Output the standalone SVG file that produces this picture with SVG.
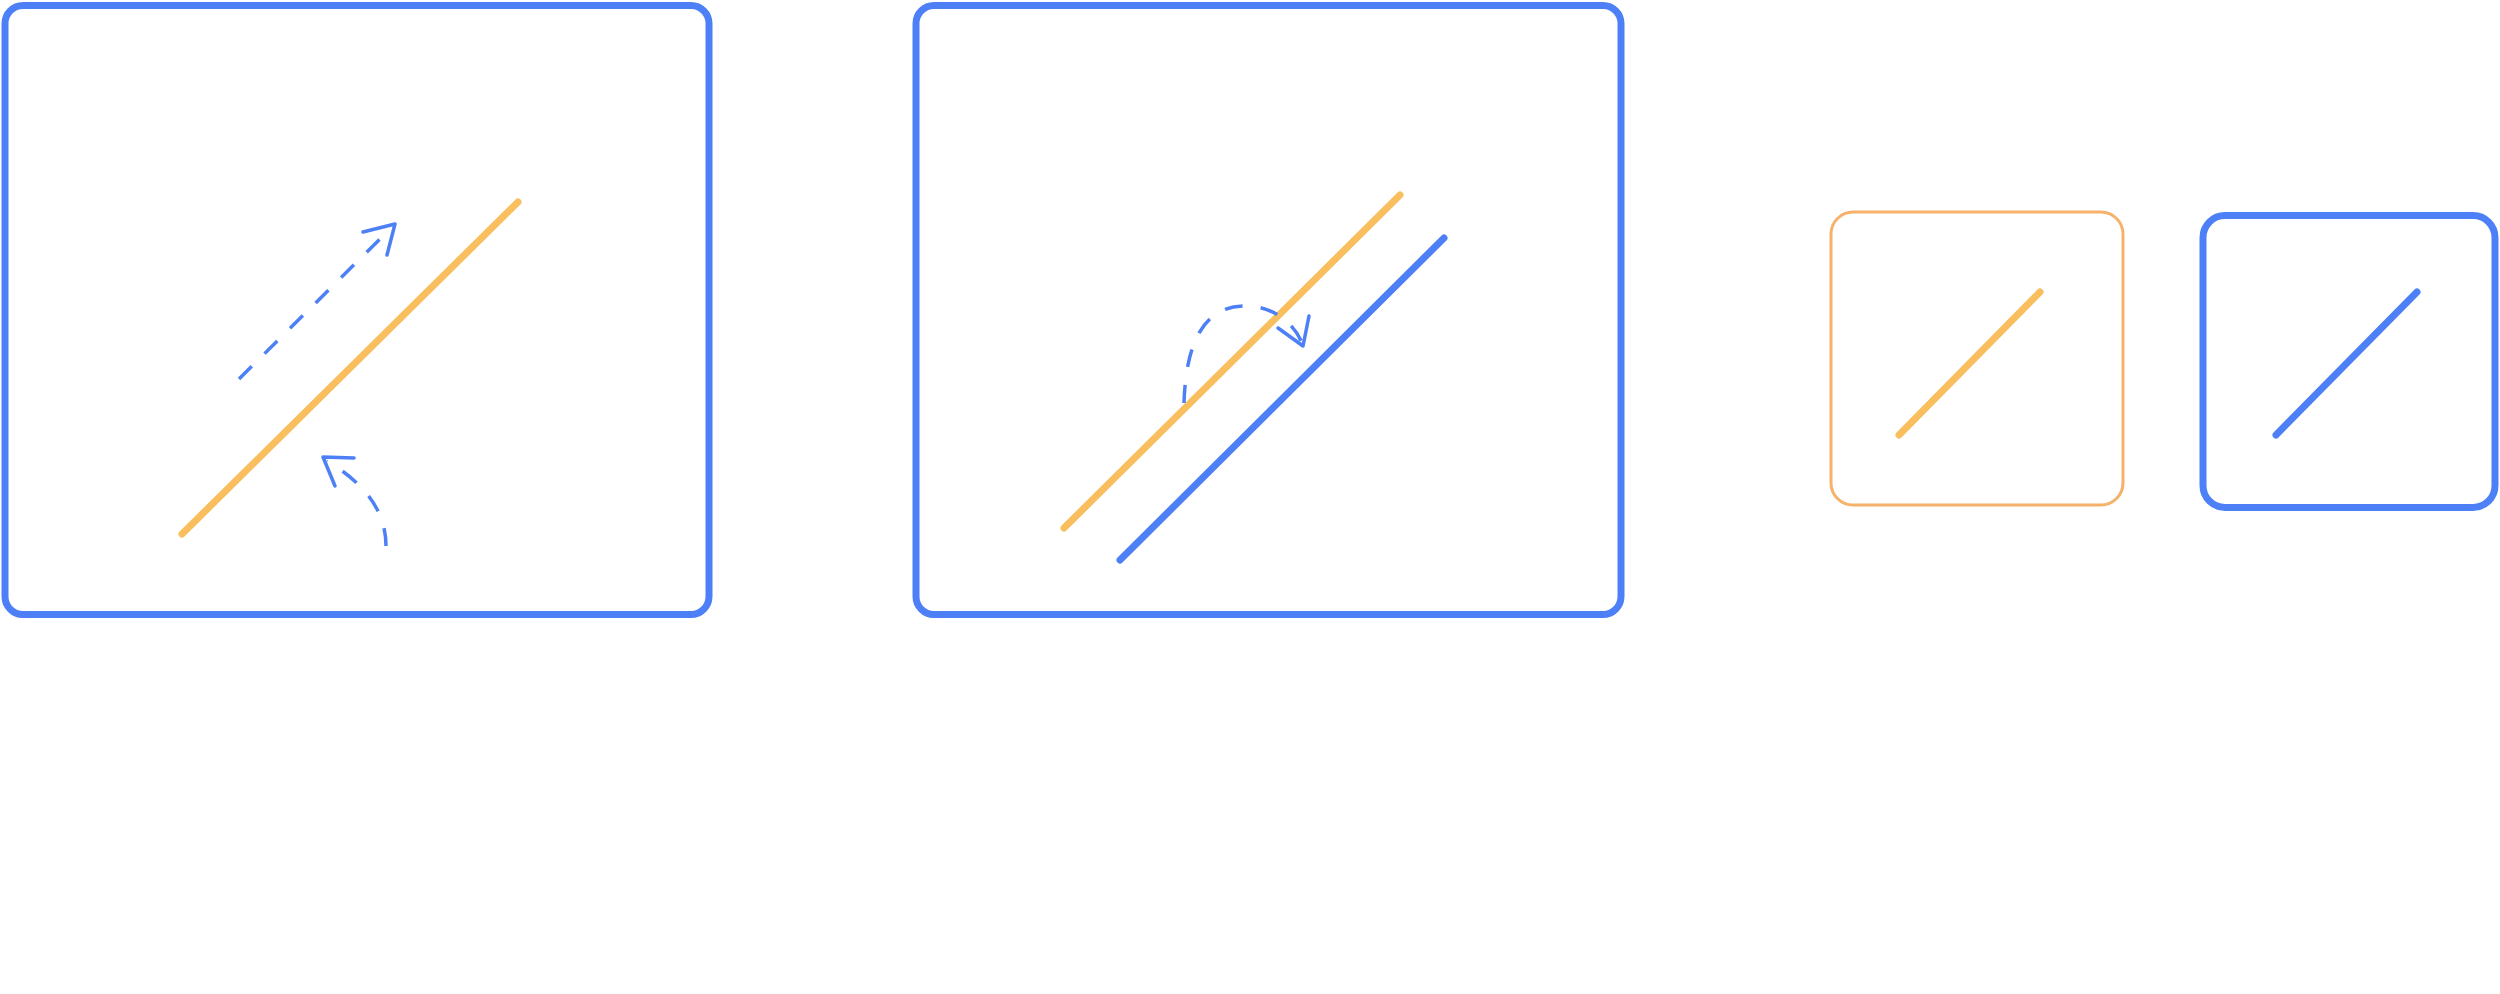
<svg xmlns="http://www.w3.org/2000/svg" width="2500" height="994" viewBox="0 0 2500 994">
<style>
.frame{fill:#fff;stroke:#4d80f6;stroke-width:7}
.frame2{fill:#fff;stroke:#f6b26b;stroke-width:3}
.oline{stroke:#f9be5e;stroke-width:7;stroke-linecap:round;fill:none}
.bline{stroke:#4d80f6;stroke-width:7;stroke-linecap:round;fill:none}
.dash{stroke:#4d80f6;stroke-width:3.5;stroke-dasharray:18 18;fill:none}
.head{stroke:#4d80f6;stroke-width:3.5;fill:none;stroke-linecap:round;stroke-linejoin:round}
</style>
<rect width="2500" height="994" fill="#fff"/>
<g id="node1">
<rect class="frame" x="5" y="5.5" width="704" height="609" rx="18"/>
<line class="oline" x1="182" y1="534" x2="518" y2="202"/>
</g>
<g id="node2">
<rect class="frame" x="916" y="5.5" width="705" height="609" rx="18"/>
<line class="oline" x1="1064" y1="528" x2="1400" y2="195"/>
<line class="bline" x1="1120" y1="560" x2="1444" y2="238"/>
</g>
<g id="node3">
<rect class="frame2" x="1831" y="212" width="292" height="293" rx="22"/>
<line class="oline" x1="1899" y1="435" x2="2040" y2="292"/>
</g>
<g id="node4">
<rect class="frame" x="2203" y="215.5" width="292" height="292" rx="22"/>
<line class="bline" x1="2276" y1="435" x2="2417" y2="292"/>
</g>
<g id="connectors">
<path class="dash" d="M239,379 L391,228"/>
<path class="head" d="M363,232 L395,224 L387,255"/>
<path class="dash" d="M386,546 C386,512 366,484 327,461"/>
<path class="head" d="M354,458 L323,457 L335,486"/>
<path class="dash" d="M1184,403 C1186,340 1205,306 1245,306 C1275,306 1295,325 1302,343"/>
<path class="head" d="M1278,328 L1303,346 L1309,316"/>
</g>
</svg>
